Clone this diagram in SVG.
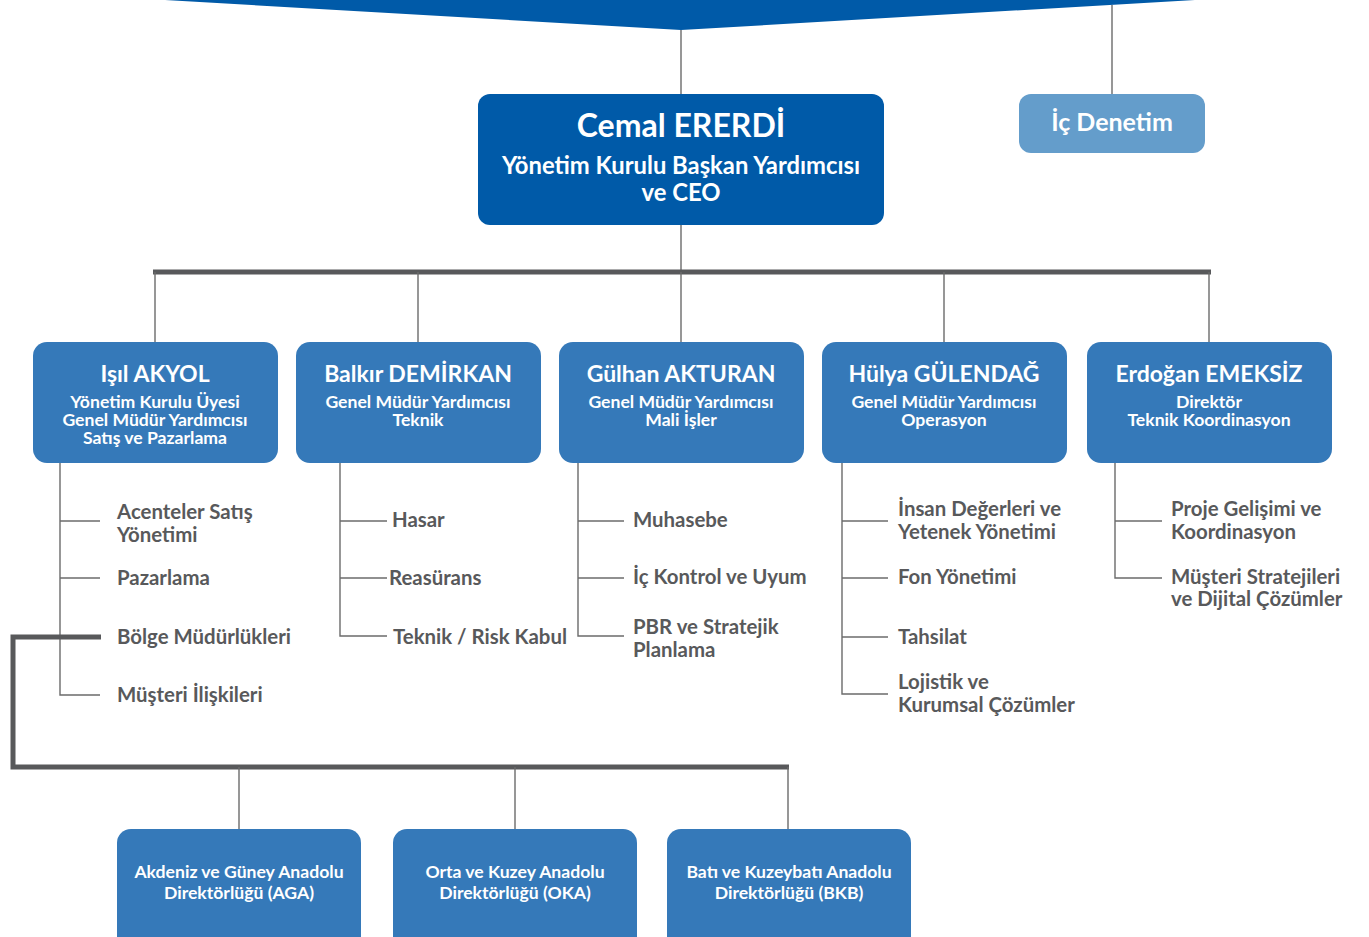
<svg xmlns="http://www.w3.org/2000/svg" width="1369" height="937" viewBox="0 0 1369 937">
<style>
.thin{stroke:#6b6b6b;stroke-width:1.4;fill:none}
.thick{stroke:#58595b;stroke-width:5;fill:none}
.box{fill:#3579b9}
.t{font-family:Lato,"Noto Sans",sans-serif;fill:#fff;text-anchor:middle;font-weight:700}
.name{font-size:23px}
.sub{font-size:17.6px}
.bot{font-size:17.6px}
.item{font-family:Lato,"Noto Sans",sans-serif;font-size:20.4px;font-weight:700;fill:#58595b}
</style>
<rect width="1369" height="937" fill="#fff"/>
<polygon points="165,0 1195,0 681,30" fill="#005aa8"/>
<g id="connectors">
<line class="thin" x1="681" y1="30" x2="681" y2="94"/>
<line class="thin" x1="1112" y1="5" x2="1112" y2="94"/>
<line class="thin" x1="681" y1="225" x2="681" y2="272"/>
<line class="thick" x1="153" y1="272" x2="1211" y2="272"/>
<line class="thin" x1="155" y1="272" x2="155" y2="342"/>
<line class="thin" x1="418" y1="272" x2="418" y2="342"/>
<line class="thin" x1="681" y1="272" x2="681" y2="342"/>
<line class="thin" x1="944" y1="272" x2="944" y2="342"/>
<line class="thin" x1="1209" y1="272" x2="1209" y2="342"/>
<polyline class="thin" points="60,463 60,695 100,695"/>
<line class="thin" x1="60" y1="521" x2="100" y2="521"/>
<line class="thin" x1="60" y1="578" x2="100" y2="578"/>
<polyline class="thin" points="340,463 340,636 387,636"/>
<line class="thin" x1="340" y1="521" x2="387" y2="521"/>
<line class="thin" x1="340" y1="578" x2="387" y2="578"/>
<polyline class="thin" points="578,463 578,636 624,636"/>
<line class="thin" x1="578" y1="521" x2="624" y2="521"/>
<line class="thin" x1="578" y1="578" x2="624" y2="578"/>
<polyline class="thin" points="842,463 842,694 888,694"/>
<line class="thin" x1="842" y1="521" x2="888" y2="521"/>
<line class="thin" x1="842" y1="578" x2="888" y2="578"/>
<line class="thin" x1="842" y1="637" x2="888" y2="637"/>
<polyline class="thin" points="1115,463 1115,578 1162,578"/>
<line class="thin" x1="1115" y1="521" x2="1162" y2="521"/>
<polyline class="thick" points="101,637 13,637 13,767 789,767"/>
<line class="thin" x1="239" y1="767" x2="239" y2="829"/>
<line class="thin" x1="515" y1="767" x2="515" y2="829"/>
<line class="thin" x1="788" y1="767" x2="788" y2="829"/>
</g>
<g id="ceo">
<rect x="478" y="94" width="406" height="131" rx="12" fill="#005aa8"/>
<text class="t" x="681" y="137" font-size="32">Cemal ERERDİ</text>
<text class="t" x="681" y="174" font-size="23.8">Yönetim Kurulu Başkan Yardımcısı</text>
<text class="t" x="681" y="201" font-size="23.8">ve CEO</text>
</g>
<g id="ic-denetim">
<rect x="1019" y="94" width="186" height="59" rx="12" fill="#649dcb"/>
<text class="t" x="1112" y="131" font-size="25">İç Denetim</text>
</g>
<g id="akyol">
<rect class="box" x="33" y="342" width="245" height="121" rx="14"/>
<text class="t name" x="155" y="382">Işıl AKYOL</text>
<text class="t sub" x="155" y="408">Yönetim Kurulu Üyesi</text>
<text class="t sub" x="155" y="426">Genel Müdür Yardımcısı</text>
<text class="t sub" x="155" y="444">Satış ve Pazarlama</text>
</g>
<g id="demirkan">
<rect class="box" x="296" y="342" width="245" height="121" rx="14"/>
<text class="t name" x="418" y="382">Balkır DEMİRKAN</text>
<text class="t sub" x="418" y="408">Genel Müdür Yardımcısı</text>
<text class="t sub" x="418" y="426">Teknik</text>
</g>
<g id="akturan">
<rect class="box" x="559" y="342" width="245" height="121" rx="14"/>
<text class="t name" x="681" y="382">Gülhan AKTURAN</text>
<text class="t sub" x="681" y="408">Genel Müdür Yardımcısı</text>
<text class="t sub" x="681" y="426">Mali İşler</text>
</g>
<g id="gulendag">
<rect class="box" x="822" y="342" width="245" height="121" rx="14"/>
<text class="t name" x="944" y="382">Hülya GÜLENDAĞ</text>
<text class="t sub" x="944" y="408">Genel Müdür Yardımcısı</text>
<text class="t sub" x="944" y="426">Operasyon</text>
</g>
<g id="emeksiz">
<rect class="box" x="1087" y="342" width="245" height="121" rx="14"/>
<text class="t name" x="1209" y="382">Erdoğan EMEKSİZ</text>
<text class="t sub" x="1209" y="408">Direktör</text>
<text class="t sub" x="1209" y="426">Teknik Koordinasyon</text>
</g>
<g id="items">
<text class="item" x="117" y="519">Acenteler Satış</text>
<text class="item" x="117" y="542">Yönetimi</text>
<text class="item" x="117" y="585">Pazarlama</text>
<text class="item" x="117" y="644" font-weight="900">Bölge Müdürlükleri</text>
<text class="item" x="117" y="702">Müşteri İlişkileri</text>
<text class="item" x="392" y="527">Hasar</text>
<text class="item" x="389" y="585">Reasürans</text>
<text class="item" x="393" y="644">Teknik / Risk Kabul</text>
<text class="item" x="633" y="527">Muhasebe</text>
<text class="item" x="633" y="584">İç Kontrol ve Uyum</text>
<text class="item" x="633" y="634">PBR ve Stratejik</text>
<text class="item" x="633" y="657">Planlama</text>
<text class="item" x="898" y="516">İnsan Değerleri ve</text>
<text class="item" x="898" y="539">Yetenek Yönetimi</text>
<text class="item" x="898" y="584">Fon Yönetimi</text>
<text class="item" x="898" y="644">Tahsilat</text>
<text class="item" x="898" y="689">Lojistik ve</text>
<text class="item" x="898" y="712">Kurumsal Çözümler</text>
<text class="item" x="1171" y="516">Proje Gelişimi ve</text>
<text class="item" x="1171" y="539">Koordinasyon</text>
<text class="item" x="1171" y="584">Müşteri Stratejileri</text>
<text class="item" x="1171" y="606">ve Dijital Çözümler</text>
</g>
<g id="aga">
<rect class="box" x="117" y="829" width="244" height="130" rx="14"/>
<text class="t bot" x="239" y="878">Akdeniz ve Güney Anadolu</text>
<text class="t bot" x="239" y="899">Direktörlüğü (AGA)</text>
</g>
<g id="oka">
<rect class="box" x="393" y="829" width="244" height="130" rx="14"/>
<text class="t bot" x="515" y="878">Orta ve Kuzey Anadolu</text>
<text class="t bot" x="515" y="899">Direktörlüğü (OKA)</text>
</g>
<g id="bkb">
<rect class="box" x="667" y="829" width="244" height="130" rx="14"/>
<text class="t bot" x="789" y="878">Batı ve Kuzeybatı Anadolu</text>
<text class="t bot" x="789" y="899">Direktörlüğü (BKB)</text>
</g>
</svg>
